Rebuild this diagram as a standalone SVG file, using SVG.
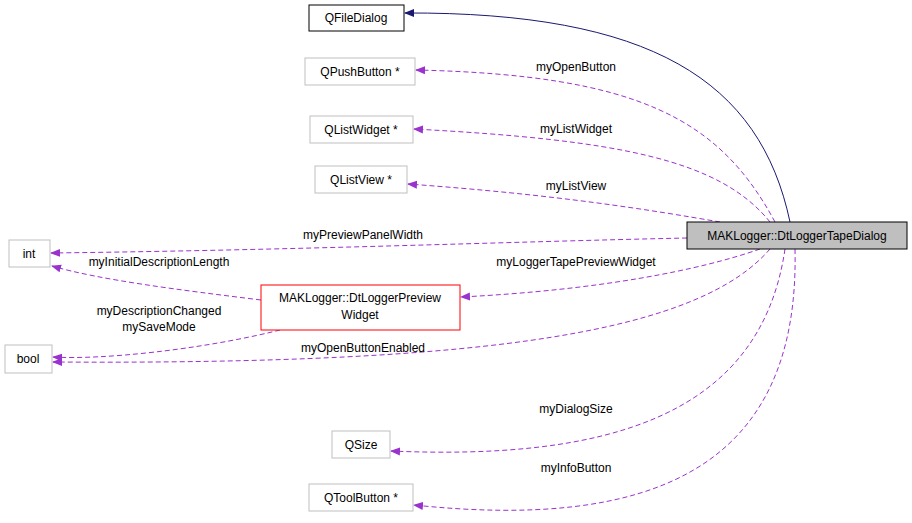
<svg xmlns="http://www.w3.org/2000/svg" width="912" height="523" viewBox="0 0 912 523">
<style>
text{font-family:"Liberation Sans",Arial,sans-serif;font-size:12px;fill:#000}
.n{fill:#fff;stroke:#bfbfbf;stroke-width:1}
.e{fill:none;stroke:#9a32cd;stroke-dasharray:5,3}
</style>
<defs>
<marker id="p" viewBox="0 0 10 10" refX="9" refY="5" markerWidth="10" markerHeight="10" orient="auto" markerUnits="userSpaceOnUse"><path d="M0,1 L10,5 L0,9z" fill="#9a32cd"/></marker>
<marker id="b" viewBox="0 0 10 10" refX="9" refY="5" markerWidth="10" markerHeight="10" orient="auto" markerUnits="userSpaceOnUse"><path d="M0,1 L10,5 L0,9z" fill="#191970"/></marker>
</defs>
<rect width="912" height="523" fill="#fff"/>
<g id="edges">
<path d="M790,222 C760,80 650,12 405,13" fill="none" stroke="#191970" marker-end="url(#b)"/>
<path class="e" d="M775,222 C720,120 640,75 416,70" marker-end="url(#p)"/>
<path class="e" d="M770,222 C720,160 620,140 414,129" marker-end="url(#p)"/>
<path class="e" d="M720,222 C650,210 560,195 408,184" marker-end="url(#p)"/>
<path class="e" d="M687,238 C500,242 300,250 51,253" marker-end="url(#p)"/>
<path class="e" d="M760,249 C700,270 600,290 461,297" marker-end="url(#p)"/>
<path class="e" d="M770,249 C700,330 500,365 53,362" marker-end="url(#p)"/>
<path class="e" d="M261,300 C180,290 100,280 52,266" marker-end="url(#p)"/>
<path class="e" d="M280,330 C200,350 100,360 53,357" marker-end="url(#p)"/>
<path class="e" d="M785,249 C760,420 600,460 391,451" marker-end="url(#p)"/>
<path class="e" d="M795,249 C800,470 650,530 414,505" marker-end="url(#p)"/>
</g>
<g id="labels">
<text x="576" y="71" text-anchor="middle">myOpenButton</text>
<text x="576" y="133" text-anchor="middle">myListWidget</text>
<text x="576" y="190" text-anchor="middle">myListView</text>
<text x="363" y="239" text-anchor="middle">myPreviewPanelWidth</text>
<text x="576" y="266" text-anchor="middle">myLoggerTapePreviewWidget</text>
<text x="159" y="266" text-anchor="middle">myInitialDescriptionLength</text>
<text x="159" y="315" text-anchor="middle">myDescriptionChanged</text>
<text x="159" y="331" text-anchor="middle">mySaveMode</text>
<text x="363" y="352" text-anchor="middle">myOpenButtonEnabled</text>
<text x="576" y="413" text-anchor="middle">myDialogSize</text>
<text x="576" y="472" text-anchor="middle">myInfoButton</text>
</g>
<g id="QFileDialog"><rect x="309" y="5" width="95" height="26" fill="#fff" stroke="#000"/><text x="356" y="22" text-anchor="middle">QFileDialog</text></g>
<g id="QPushButton"><rect class="n" x="305" y="58" width="110" height="27"/><text x="360" y="76" text-anchor="middle">QPushButton *</text></g>
<g id="QListWidget"><rect class="n" x="310" y="116" width="103" height="27"/><text x="361" y="134" text-anchor="middle">QListWidget *</text></g>
<g id="QListView"><rect class="n" x="315" y="166" width="92" height="27"/><text x="361" y="184" text-anchor="middle">QListView *</text></g>
<g id="int"><rect class="n" x="9" y="240" width="41" height="27"/><text x="29" y="258" text-anchor="middle">int</text></g>
<g id="DtLoggerTapeDialog"><rect x="687" y="222" width="220" height="27" fill="#bfbfbf" stroke="#000"/><text x="797" y="240" text-anchor="middle">MAKLogger::DtLoggerTapeDialog</text></g>
<g id="DtLoggerPreviewWidget"><rect x="261" y="285" width="199" height="45" fill="#fff" stroke="#f00"/><text x="360" y="302" text-anchor="middle">MAKLogger::DtLoggerPreview</text><text x="360" y="319" text-anchor="middle">Widget</text></g>
<g id="bool"><rect class="n" x="5" y="345" width="47" height="28"/><text x="28" y="363" text-anchor="middle">bool</text></g>
<g id="QSize"><rect class="n" x="332" y="431" width="58" height="27"/><text x="361" y="449" text-anchor="middle">QSize</text></g>
<g id="QToolButton"><rect class="n" x="309" y="484" width="104" height="27"/><text x="361" y="502" text-anchor="middle">QToolButton *</text></g>
</svg>
